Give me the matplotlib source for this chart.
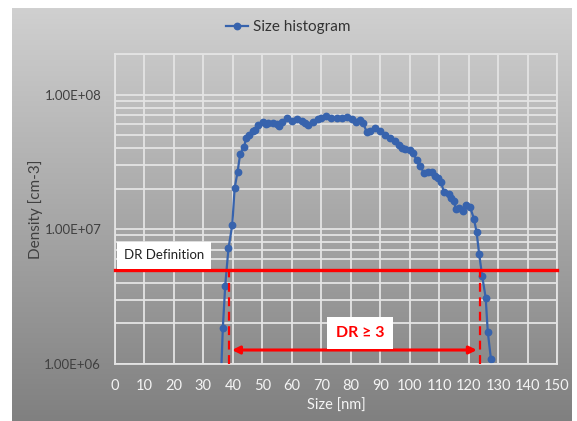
import numpy as np
import matplotlib
matplotlib.use("Agg")
import matplotlib.pyplot as plt
from matplotlib.ticker import FixedLocator, LogLocator, FuncFormatter, NullFormatter

plt.rcParams['font.family'] = ['Lato', 'DejaVu Sans']

# size histogram (nm, cm-3)
size_nm = [35.7, 36.6, 37.4, 38.5, 39.8, 40.6, 41.6, 42.5, 43.8, 44.5, 45.6, 46.7,
           47.6, 48.6, 50.3, 51.2, 52.0, 53.7, 55.0, 55.7, 56.8, 58.5, 60.0, 61.6,
           63.3, 64.5, 65.6, 67.3, 69.0, 70.0, 71.6, 73.2, 75.3, 77.0, 78.6, 80.3,
           81.8, 83.2, 84.1, 85.4, 86.5, 88.2, 89.9, 91.6, 93.3, 95.0, 96.4, 97.5,
           98.4, 100.1, 101.2, 102.4, 103.5, 104.9, 106.3, 107.5, 108.6, 109.7,
           110.6, 111.7, 113.2, 113.9, 115.0, 115.7, 116.9, 118.0, 119.1, 120.5,
           121.8, 122.7, 123.6, 124.6, 125.8, 126.5, 127.6, 128.4]
density = [5.5e5, 1.86e6, 3.8e6, 7.2e6, 1.08e7, 2.02e7, 2.67e7, 3.65e7, 4.07e7, 4.75e7,
           5.0e7, 5.36e7, 5.5e7, 5.97e7, 6.3e7, 6.0e7, 6.1e7, 6.2e7, 6.0e7, 5.8e7,
           6.3e7, 6.7e7, 6.4e7, 6.6e7, 6.4e7, 6.2e7, 5.97e7, 6.3e7, 6.6e7, 6.7e7,
           6.9e7, 6.7e7, 6.7e7, 6.7e7, 6.8e7, 6.6e7, 6.3e7, 6.5e7, 6.2e7, 5.3e7,
           5.4e7, 5.6e7, 5.4e7, 5.0e7, 4.75e7, 4.5e7, 4.2e7, 4.0e7, 3.95e7, 3.85e7,
           3.7e7, 3.24e7, 2.97e7, 2.6e7, 2.65e7, 2.66e7, 2.5e7, 2.4e7, 2.23e7,
           1.88e7, 1.83e7, 1.7e7, 1.62e7, 1.41e7, 1.44e7, 1.37e7, 1.51e7, 1.46e7,
           1.2e7, 9.55e6, 6.5e6, 4.5e6, 3.1e6, 1.74e6, 1.08e6, 5.5e5]

dr_level = 5.0e6          # DR definition threshold
dr_bounds = [38.7, 124.0]  # sizes where the curve crosses the threshold
dr_label = "DR \u2265 3"

W, H = 577, 421
fig = plt.figure(figsize=(W / 100, H / 100), dpi=100)

# gray gradient background of the chart area
bg = fig.add_axes([12 / W, 0, 560 / W, 413 / H], zorder=0)
grad = np.linspace(208, 128, 256)[:, None] / 255.0
bg.imshow(np.dstack([grad, grad, grad]), aspect='auto', extent=[0, 1, 0, 1])
bg.set_axis_off()

ax = fig.add_axes([115 / W, (H - 364) / H, 442 / W, 310 / H], zorder=1)
ax.patch.set_alpha(0)

ax.plot(size_nm, density, color='#3763ad', lw=1.6, marker='o', ms=4.6,
        label='Size histogram', clip_on=True)

ax.set_yscale('log')
ax.set_xlim(0, 150)
ax.set_ylim(1e6, 2e8)
ax.set_xticks(np.arange(0, 151, 10))
ax.yaxis.set_major_locator(FixedLocator([1e6, 1e7, 1e8]))
ax.yaxis.set_minor_locator(LogLocator(base=10, subs=np.arange(2, 10)))
ax.yaxis.set_major_formatter(FuncFormatter(lambda v, p: f"{v:.2E}"))
ax.yaxis.set_minor_formatter(NullFormatter())

gc = '#e4e4e4'
ax.grid(True, which='major', axis='both', color=gc, lw=1.3)
ax.grid(True, which='minor', axis='y', color=gc, lw=1.3)
ax.set_axisbelow(True)
for s in ax.spines.values():
    s.set_color(gc)
    s.set_linewidth(1.3)

ax.tick_params(axis='both', which='both', length=0)
ax.tick_params(axis='x', colors='#f4f4f4', labelsize=10.5, pad=11)
ax.tick_params(axis='y', colors='#404040', labelsize=9.5, pad=10)
ax.set_xlabel('Size [nm]', color='#f4f4f4', fontsize=10.5, labelpad=4)
ax.set_ylabel('Density [cm-3]', color='#404040', fontsize=11, labelpad=1)

# DR definition line and bounds
ax.axhline(dr_level, color='#ff0000', lw=2.4, zorder=3, clip_on=False)
for xb in dr_bounds:
    ax.plot([xb, xb], [1e6, dr_level], color='#ff0000', lw=1.6,
            ls=(0, (4, 2.5)), zorder=3)
ax.annotate('', xy=(39.7, 1.27e6), xytext=(122.8, 1.27e6),
            arrowprops=dict(arrowstyle='<|-|>', color='#ff0000', lw=2.2,
                            mutation_scale=11, shrinkA=0, shrinkB=0), zorder=4)

ax.text(16.6, 6.4e6, 'DR Definition', ha='center', va='center', fontsize=9.5,
        color='#222222', zorder=5,
        bbox=dict(boxstyle='square,pad=0.55', fc='white', ec='none'))
ax.text(83.1, 1.7e6, dr_label, ha='center', va='center', fontsize=11.5,
        fontweight='bold', color='#ff0000', zorder=5,
        bbox=dict(boxstyle='square,pad=0.55', fc='white', ec='none'))

ax.legend(loc='center', bbox_to_anchor=((288 - 115) / 442, (H - 27 - 57) / 310),
          frameon=False, fontsize=11, labelcolor='#333333', handlelength=1.5,
          handletextpad=0.3)

fig.savefig('out.png', dpi=100)
